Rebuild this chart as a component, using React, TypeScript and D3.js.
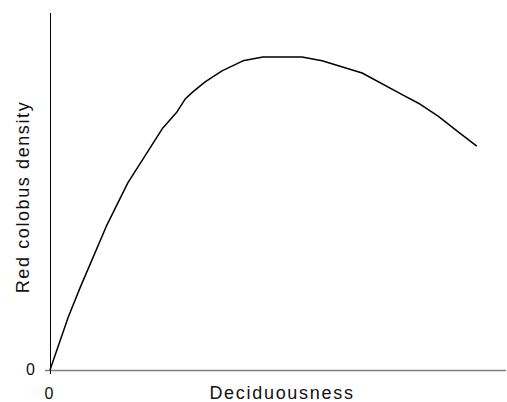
import React from 'react';
import * as d3 from 'd3';

// deciduousness (0-100 relative units) and red colobus density (0-100 relative units)
const deciduousness = [0, 4.0, 6.6, 12.5, 17.1, 22.0, 24.8, 27.9, 29.7, 31.4, 34.1, 37.8, 42.4, 46.8, 55.4, 59.8, 68.6, 77.6, 81.3, 85.3, 89.5, 93.8];
const density = [0, 14.8, 23.0, 40.6, 52.4, 62.2, 67.8, 72.3, 75.9, 77.9, 80.7, 83.8, 86.6, 87.7, 87.7, 86.6, 83.2, 77.0, 74.5, 71.1, 66.9, 62.7];
const xTicks = [0];
const yTicks = [0];

const W = 507;
const H = 402;
const left = 50;
const right = 505;
const top = 13;
const bottom = 370;

export default function App() {
  const x = d3.scaleLinear().domain([0, 100]).range([left, right]);
  const y = d3.scaleLinear().domain([0, 100]).range([bottom, top]);
  const pts: [number, number][] = deciduousness.map((d, i) => [d, density[i]]);
  const line = d3.line<[number, number]>().x(d => x(d[0])).y(d => y(d[1]));
  const font = '"Liberation Sans", Arial, sans-serif';

  return (
    <svg width={W} height={H} style={{ position: 'absolute', left: 0, top: 0 }} fontFamily={font} fill="#111">
      <rect width={W} height={H} fill="#fff" />
      {/* x axis */}
      <line x1={left - 5} x2={506} y1={bottom + 0.5} y2={bottom + 0.5} stroke="#808080" strokeWidth={1.5} />
      {/* y axis */}
      <line x1={left + 0.5} x2={left + 0.5} y1={top} y2={bottom + 4} stroke="#000" strokeWidth={1} />
      {yTicks.map(t => (
        <text key={'y' + t} x={35} y={y(t) + 5} textAnchor="end" fontSize={16}>{t}</text>
      ))}
      {xTicks.map(t => (
        <text key={'x' + t} x={x(t) - 1} y={399} textAnchor="middle" fontSize={16}>{t}</text>
      ))}
      <path d={line(pts) ?? ''} fill="none" stroke="#000" strokeWidth={1.5} strokeLinejoin="round" />
      <text x={282} y={399} textAnchor="middle" fontSize={18} letterSpacing={1.7}>Deciduousness</text>
      <text transform={`translate(29,${197}) rotate(-90)`} textAnchor="middle" fontSize={18} letterSpacing={1.6}>Red colobus density</text>
    </svg>
  );
}
